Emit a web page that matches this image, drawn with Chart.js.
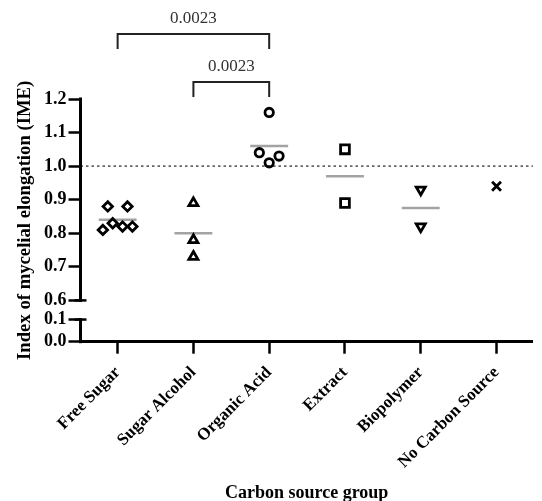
<!DOCTYPE html>
<html>
<head>
<meta charset="utf-8">
<script src="https://cdn.jsdelivr.net/npm/chart.js@4"></script>
<style>
  html, body { margin: 0; padding: 0; background: #fff; }
</style>
</head>
<body>
<canvas id="chart" width="542" height="501"></canvas>
<script>
// groups along the x axis
const categories = ['Free Sugar', 'Sugar Alcohol', 'Organic Acid', 'Extract', 'Biopolymer', 'No Carbon Source'];

// IME values, one array per group
const freeSugar = [0.88, 0.88, 0.81, 0.83, 0.82, 0.82];
const sugarAlcohol = [0.89, 0.78, 0.73];
const organicAcid = [1.16, 1.04, 1.01, 1.03];
const extract = [1.05, 0.89];
const biopolymer = [0.93, 0.82];
const noCarbonSource = [0.94];

// broken y axis: upper and lower tick labels
const upperTicks = [0.6, 0.7, 0.8, 0.9, 1.0, 1.1, 1.2];
const lowerTicks = [0.0, 0.1];

const baseline = 1.0;
const comparisons = [
    { from: 0, to: 2, label: '0.0023' },
    { from: 1, to: 2, label: '0.0023' }
];

const groups = [freeSugar, sugarAlcohol, organicAcid, extract, biopolymer, noCarbonSource];
const markers = ['rectRot', 'triangle', 'circle', 'rect', 'triangle', 'crossRot'];
const markerSize = [4.7, 5.2, 4.2, 6.2, 5.2, 6.3];
const markerTurn = [0, 0, 0, 0, 180, 0];

const serif = "'Liberation Serif', 'Times New Roman', serif";

// spread points that sit at about the same height side by side
function spread(values) {
    const order = values.map((v, k) => k).sort((a, b) => values[a] - values[b]);
    const rows = [];
    order.forEach(k => {
        const row = rows[rows.length - 1];
        if (row && values[k] - values[row[row.length - 1]] <= 0.015) row.push(k);
        else rows.push([k]);
    });
    const off = values.map(() => 0);
    rows.forEach(row => {
        if (row.length < 2) return;
        row.sort((a, b) => a - b);
        const width = Math.min((row.length - 1) * 0.26, 0.39);
        row.forEach((k, j) => { off[k] = -width / 2 + j * width / (row.length - 1); });
    });
    return off;
}

const mean = arr => arr.reduce((a, b) => a + b, 0) / arr.length;

const datasets = [];
groups.forEach((vals, i) => {
    const off = spread(vals);
    datasets.push({
        type: 'scatter',
        data: vals.map((v, k) => ({ x: i + off[k], y: v })),
        yAxisID: 'y',
        pointStyle: markers[i],
        pointRadius: markerSize[i],
        pointRotation: markerTurn[i],
        pointBorderWidth: 2.8,
        borderColor: '#000',
        backgroundColor: 'rgba(0,0,0,0)',
        order: 1
    });
    if (vals.length > 1) {
        const m = mean(vals);
        datasets.push({
            type: 'line',
            data: [{ x: i - 0.25, y: m }, { x: i + 0.25, y: m }],
            yAxisID: 'y',
            borderColor: '#a3a3a3',
            borderWidth: 2.5,
            pointRadius: 0,
            order: 2
        });
    }
});

const brokenAxis = {
    id: 'brokenAxis',
    beforeDatasetsDraw(chart) {
        const { ctx, chartArea, scales } = chart;
        const y = scales.y.getPixelForValue(baseline);
        ctx.save();
        ctx.setLineDash([2.5, 3]);
        ctx.strokeStyle = '#666';
        ctx.lineWidth = 1.6;
        ctx.beginPath();
        ctx.moveTo(chartArea.left, y);
        ctx.lineTo(chartArea.right, y);
        ctx.stroke();
        ctx.restore();
    },
    afterDraw(chart) {
        const { ctx, chartArea, scales } = chart;
        const x = chartArea.left;
        ctx.save();
        ctx.strokeStyle = '#000';
        ctx.lineWidth = 3;

        // the two pieces of the y axis, with a cap at the break
        const piece = (scale, lo, hi) => {
            const yLo = scale.getPixelForValue(lo);
            const yHi = scale.getPixelForValue(hi);
            ctx.beginPath();
            ctx.moveTo(x, yLo + 1.5);
            ctx.lineTo(x, yHi - 1.5);
            ctx.stroke();
        };
        piece(scales.y, upperTicks[0], upperTicks[upperTicks.length - 1]);
        piece(scales.y2, lowerTicks[0], lowerTicks[lowerTicks.length - 1]);
        ctx.lineWidth = 2.5;
        [[scales.y, upperTicks[0]], [scales.y2, lowerTicks[lowerTicks.length - 1]]].forEach(([s, v]) => {
            const yy = s.getPixelForValue(v);
            ctx.beginPath();
            ctx.moveTo(x - 6, yy);
            ctx.lineTo(x + 6, yy);
            ctx.stroke();
        });

        // y axis title
        ctx.fillStyle = '#000';
        ctx.font = 'bold 18.7px ' + serif;
        ctx.textAlign = 'center';
        ctx.textBaseline = 'middle';
        ctx.translate(25, (chartArea.top + chartArea.bottom) / 2);
        ctx.rotate(-Math.PI / 2);
        ctx.fillText('Index of mycelial elongation (IME)', 0, 0);
        ctx.setTransform(1, 0, 0, 1, 0, 0);

        // significance brackets, narrow ones lowest
        const sorted = comparisons.slice().sort((a, b) => (a.to - a.from) - (b.to - b.from));
        ctx.strokeStyle = '#222';
        ctx.lineWidth = 2;
        ctx.fillStyle = '#333';
        ctx.font = '17px ' + serif;
        ctx.textBaseline = 'middle';
        sorted.forEach((c, level) => {
            const x1 = scales.x.getPixelForValue(c.from);
            const x2 = scales.x.getPixelForValue(c.to);
            const bar = chartArea.top - 17 - level * 48;
            ctx.beginPath();
            ctx.moveTo(x1, bar + 15);
            ctx.lineTo(x1, bar);
            ctx.lineTo(x2, bar);
            ctx.lineTo(x2, bar + 15);
            ctx.stroke();
            ctx.fillText(c.label, (x1 + x2) / 2, bar - 15);
        });
        ctx.restore();
    }
};

const axisGrid = {
    display: true,
    drawOnChartArea: false,
    drawTicks: true,
    tickLength: 12,
    tickWidth: 2.5,
    tickColor: '#000'
};

new Chart(document.getElementById('chart').getContext('2d'), {
    type: 'scatter',
    data: { datasets },
    options: {
        responsive: false,
        animation: false,
        layout: { padding: { top: 99, left: 42, right: 0, bottom: 0 } },
        plugins: { legend: { display: false }, tooltip: { enabled: false } },
        scales: {
            x: {
                type: 'linear',
                min: -0.49,
                max: 5.48,
                afterBuildTicks: s => { s.ticks = categories.map((c, i) => ({ value: i })); },
                ticks: {
                    autoSkip: false,
                    maxRotation: 45,
                    minRotation: 45,
                    padding: 9,
                    color: '#000',
                    font: { family: serif, size: 17, weight: 'bold' },
                    callback: v => categories[v]
                },
                grid: axisGrid,
                border: { display: true, color: '#000', width: 3 },
                title: {
                    display: true,
                    text: 'Carbon source group',
                    color: '#000',
                    font: { family: serif, size: 18, weight: 'bold' },
                    padding: { top: 1, bottom: -3 }
                }
            },
            y2: {
                type: 'linear',
                position: 'left',
                stack: 'ime',
                stackWeight: 31,
                min: 0,
                max: 0.141,
                afterBuildTicks: s => { s.ticks = lowerTicks.map(v => ({ value: v })); },
                ticks: {
                    autoSkip: false,
                    padding: 2,
                    color: '#000',
                    font: { family: serif, size: 18, weight: 'bold' },
                    callback: v => v.toFixed(1)
                },
                grid: axisGrid,
                border: { display: false }
            },
            y: {
                type: 'linear',
                position: 'left',
                stack: 'ime',
                stackWeight: 210,
                min: 0.57,
                max: 1.2,
                afterBuildTicks: s => { s.ticks = upperTicks.map(v => ({ value: v })); },
                ticks: {
                    autoSkip: false,
                    padding: 2,
                    color: '#000',
                    font: { family: serif, size: 18, weight: 'bold' },
                    callback: v => v.toFixed(1)
                },
                grid: axisGrid,
                border: { display: false }
            }
        }
    },
    plugins: [brokenAxis]
});
</script>
</body>
</html>
